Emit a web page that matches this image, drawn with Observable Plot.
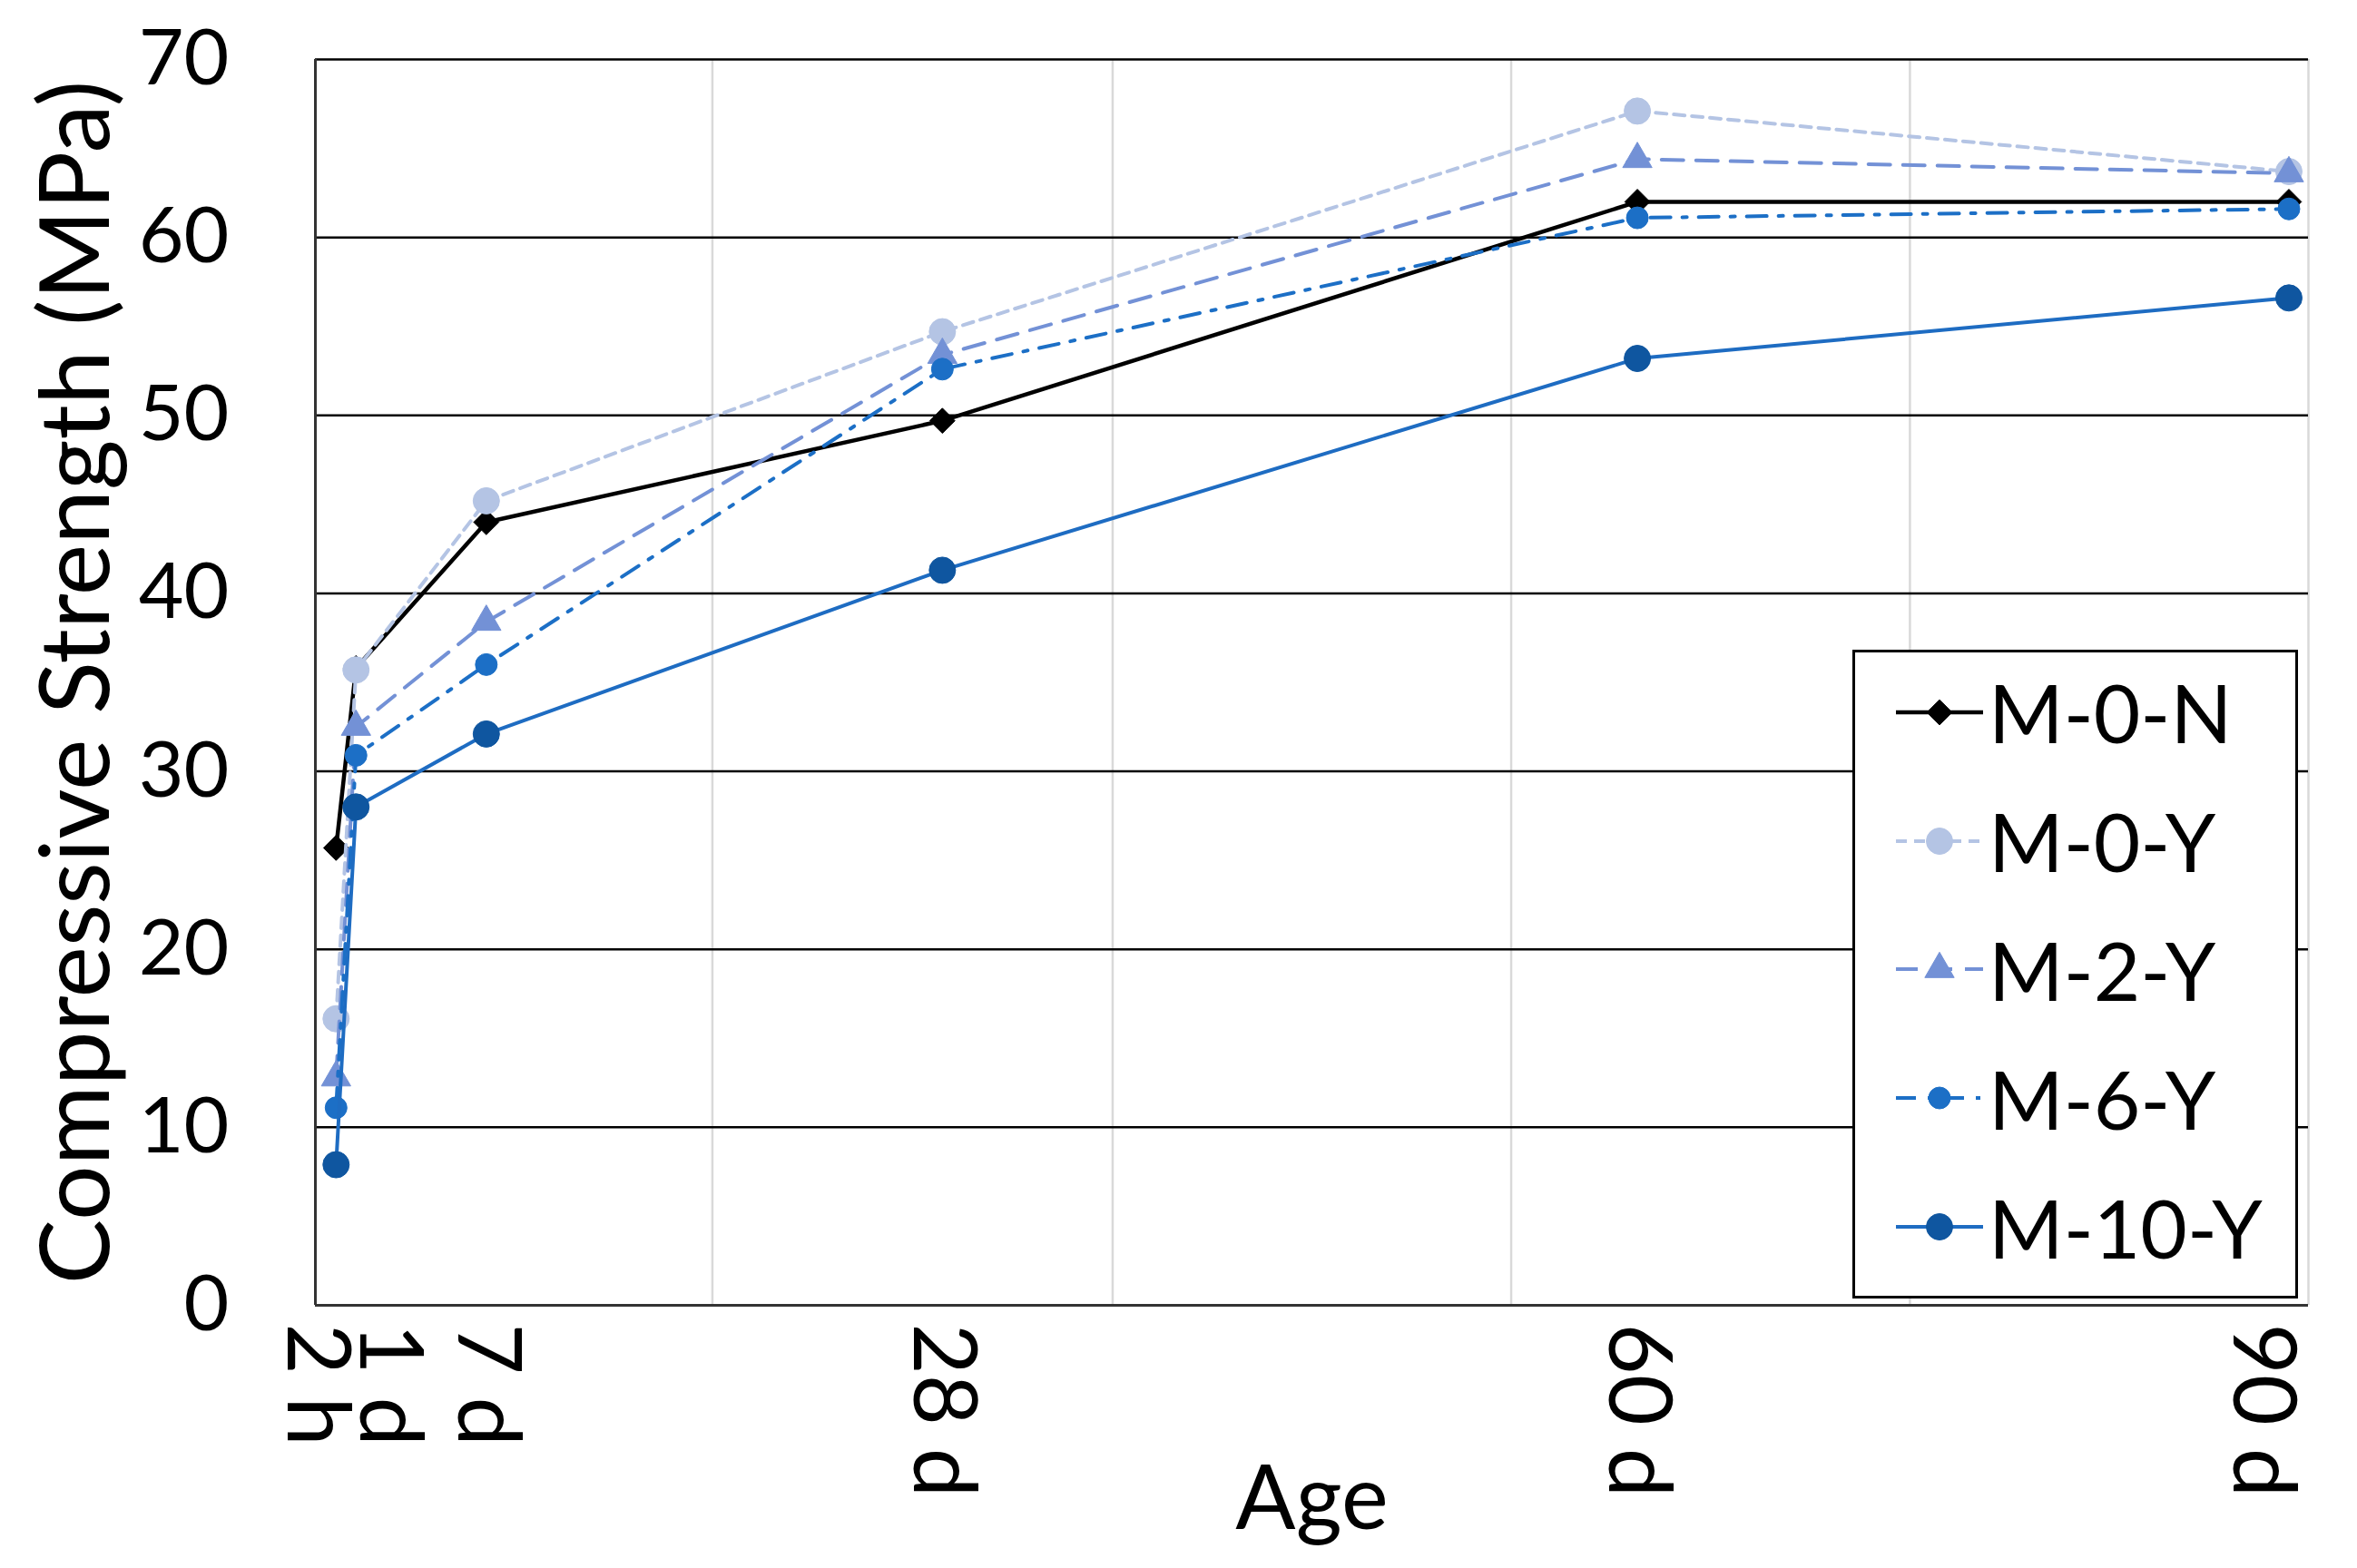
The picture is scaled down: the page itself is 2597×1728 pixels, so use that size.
<!DOCTYPE html>
<html>
<head>
<meta charset="utf-8">
<script src="https://cdn.jsdelivr.net/npm/d3@7"></script>
<script src="https://cdn.jsdelivr.net/npm/@observablehq/plot@0.6"></script>
<style>
  html, body { margin: 0; padding: 0; background: #fff; }
  #wrap { position: relative; width: 2597px; height: 1728px; font-family: Lato, "Open Sans", sans-serif; }
  #legend { position: absolute; left: 2041px; top: 716px; width: 485px; height: 709px;
            border: 3px solid #000; background: #fff; box-sizing: content-box; }
  .row { height: 141.8px; display: flex; align-items: center; position: relative; top: -5px; }
  .row svg { display: block; }
  .row span { font-size: 89px; color: #000; margin-left: -3px; line-height: 1; }
</style>
</head>
<body>
<div id="wrap"></div>
<script>
// ---- data ----
const ageLabels = ["2 h", "1 d", "7 d", "28 d", "60 d", "90 d"];
const ageDays = [0.083, 1, 7, 28, 60, 90];
const seriesNames = ["M-0-N", "M-0-Y", "M-2-Y", "M-6-Y", "M-10-Y"];
const m0n = [25.7, 35.8, 44.0, 49.7, 62.0, 62.0];
const m0y = [16.1, 35.7, 45.2, 54.7, 67.1, 63.7];
const m2y = [12.8, 32.5, 38.4, 53.4, 64.4, 63.6];
const m6y = [11.1, 30.9, 36.0, 52.6, 61.1, 61.6];
const m10y = [7.9, 28.0, 32.1, 41.3, 53.2, 56.6];
const yTicks = [0, 10, 20, 30, 40, 50, 60, 70];
const xDomain = [-0.87, 90.9];
const xGrid = [17.41, 35.84, 54.19, 72.55];

// ---- styles ----
const styles = {
  "M-0-N":  {line: "#000000", fill: "#000000", dash: null,          width: 4.5, symbol: "diamond2", r: 12.5},
  "M-0-Y":  {line: "#b4c4e4", fill: "#b4c4e4", dash: "12,8",        width: 4,   symbol: "circle",   r: 14.5},
  "M-2-Y":  {line: "#7391d6", fill: "#7391d6", dash: "24,14",       width: 4,   symbol: "triangle", r: 12},
  "M-6-Y":  {line: "#1c6fc6", fill: "#1c6fc6", dash: "22,13,5,13",  width: 4,   symbol: "circle",   r: 12},
  "M-10-Y": {line: "#1e6cc2", fill: "#0f56a0", dash: null,          width: 4,   symbol: "circle",   r: 14.5}
};
const seriesValues = [m0n, m0y, m2y, m6y, m10y];
const labelOf = new Map(ageDays.map((d, i) => [d, ageLabels[i]]));

const rows = [];
seriesNames.forEach((s, k) => seriesValues[k].forEach((v, i) => rows.push({series: s, day: ageDays[i], value: v})));

const seriesMarks = seriesNames.flatMap(s => {
  const st = styles[s];
  const d = rows.filter(r => r.series === s);
  return [
    Plot.line(d, {x: "day", y: "value", stroke: st.line, strokeWidth: st.width,
                  strokeDasharray: st.dash ?? undefined, strokeLinejoin: "round"}),
    Plot.dot(d, {x: "day", y: "value", symbol: st.symbol, r: st.r, fill: st.fill,
                 stroke: st.fill, strokeWidth: 1})
  ];
});

// x tick labels: Excel nudges crowded / edge labels sideways
const xAxisOpts = {tickFormat: d => labelOf.get(d), tickRotate: 90, tickSize: 0,
                   tickPadding: 20, fontSize: 97, label: null};
const labelNudge = [-22, 36, 0, 0, 0, -30];
const xAxes = ageDays.map((d, i) => Plot.axisX([d], {...xAxisOpts, dx: labelNudge[i]}));

const chart = Plot.plot({
  width: 2597,
  height: 1728,
  marginLeft: 347,
  marginRight: 54,
  marginTop: 65,
  marginBottom: 290,
  style: {fontFamily: "Lato, 'Open Sans', sans-serif", background: "#fff", color: "#000"},
  x: {domain: xDomain, type: "linear"},
  y: {domain: [0, 70]},
  marks: [
    Plot.gridX(xGrid, {stroke: "#d9d9d9", strokeOpacity: 1, strokeWidth: 2.5}),
    Plot.ruleX([xDomain[1]], {stroke: "#d9d9d9", strokeWidth: 2.5}),
    Plot.gridY(yTicks.slice(1), {stroke: "#000", strokeOpacity: 1, strokeWidth: 2.5}),
    Plot.ruleY([0], {stroke: "#333", strokeWidth: 3}),
    Plot.ruleX([xDomain[0]], {stroke: "#333", strokeWidth: 3}),
    Plot.axisY({ticks: yTicks, tickSize: 0, tickPadding: 95, fontSize: 86, label: null}),
    ...xAxes,
    Plot.text(["Age"], {frameAnchor: "bottom", lineAnchor: "middle", textAnchor: "middle",
                        dy: 215, fontSize: 98, fill: "#000"}),
    Plot.text(["Compressive Strength (MPa)"], {frameAnchor: "left", lineAnchor: "middle",
                        textAnchor: "middle", rotate: -90, dx: -262, fontSize: 107, fill: "#000"}),
    ...seriesMarks
  ]
});

const wrap = document.getElementById("wrap");
wrap.appendChild(chart);

// ---- legend ----
const legend = document.createElement("div");
legend.id = "legend";
seriesNames.forEach(s => {
  const st = styles[s];
  const row = document.createElement("div");
  row.className = "row";
  const svg = d3.create("svg").attr("width", 150).attr("height", 60);
  svg.append("line").attr("x1", 45).attr("x2", 141).attr("y1", 30).attr("y2", 30)
    .attr("stroke", st.line).attr("stroke-width", st.width)
    .attr("stroke-dasharray", st.dash);
  const sym = {circle: d3.symbolCircle, triangle: d3.symbolTriangle, diamond2: d3.symbolDiamond2}[st.symbol];
  svg.append("path").attr("transform", "translate(93,30)")
    .attr("d", d3.symbol(sym, Math.PI * st.r * st.r)())
    .attr("fill", st.fill).attr("stroke", st.fill).attr("stroke-width", 1);
  row.appendChild(svg.node());
  const span = document.createElement("span");
  span.textContent = s;
  row.appendChild(span);
  legend.appendChild(row);
});
wrap.appendChild(legend);
</script>
</body>
</html>
